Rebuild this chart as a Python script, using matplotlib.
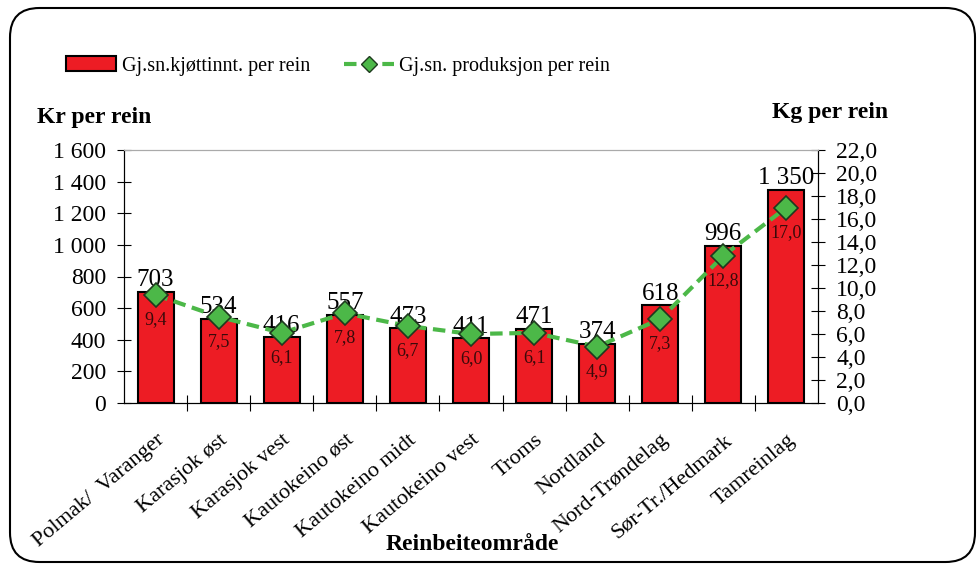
import matplotlib.pyplot as plt
from matplotlib.patches import FancyBboxPatch, Patch
from matplotlib.lines import Line2D
from matplotlib.ticker import FuncFormatter

plt.rcParams['font.family'] = ['Liberation Serif', 'DejaVu Serif']

# data
omrader = ['Polmak/  Varanger', 'Karasjok øst', 'Karasjok vest', 'Kautokeino øst',
           'Kautokeino midt', 'Kautokeino vest', 'Troms', 'Nordland',
           'Nord-Trøndelag', 'Sør-Tr./Hedmark', 'Tamreinlag']
kr_per_rein = [703, 534, 416, 557, 473, 411, 471, 374, 618, 996, 1350]
kg_per_rein = [9.4, 7.5, 6.1, 7.8, 6.7, 6.0, 6.1, 4.9, 7.3, 12.8, 17.0]

fig = plt.figure(figsize=(9.8, 5.64), dpi=100)
ax = fig.add_axes([124/980, 1 - 403/564, (818-124)/980, (403-150)/564])
ax2 = ax.twinx()

x = range(len(omrader))
ax.bar(x, kr_per_rein, width=0.57, color='#ed1c24', edgecolor='black', linewidth=1.5, zorder=2)
ax.set_xlim(-0.5, len(omrader) - 0.5)
ax.set_ylim(0, 1600)
ax.set_yticks(range(0, 1601, 200))
ax.yaxis.set_major_formatter(FuncFormatter(lambda v, p: f'{int(v):,}'.replace(',', ' ')))
ax.set_xticks([i + 0.5 for i in range(len(omrader) - 1)], minor=False)
ax.set_xticklabels([])
# category labels sit a little right of the bar centre, like the original
ax.set_xticks([i + 0.1 for i in x], minor=True)
ax.set_xticklabels(omrader, minor=True, rotation=40, ha='right', va='center',
                   rotation_mode='anchor', fontsize=16)
ax.tick_params(axis='x', which='minor', length=0, pad=25)
ax.tick_params(axis='x', which='major', direction='inout', length=12)
ax.tick_params(axis='y', direction='inout', length=10, labelsize=17, pad=8)
for i, v in enumerate(kr_per_rein):
    ax.text(i, v + 3, f'{v:,}'.replace(',', ' '), ha='center', va='bottom', fontsize=18, zorder=5)

ax2.plot(x, kg_per_rein, color='#4cb848', linestyle=(0, (3, 1.6)), linewidth=3,
         marker='D', markersize=12, markerfacecolor='#4cb848', markeredgecolor='#1e3a1e',
         markeredgewidth=1.2, zorder=4)
ax2.set_ylim(0, 22)
ax2.set_yticks([i * 2 for i in range(12)])
ax2.yaxis.set_major_formatter(FuncFormatter(lambda v, p: f'{v:.1f}'.replace('.', ',')))
ax2.tick_params(axis='y', direction='inout', length=10, labelsize=17, pad=8)
for i, v in enumerate(kg_per_rein):
    ax2.text(i, v - 1.4, f'{v:.1f}'.replace('.', ','), ha='center', va='top',
             fontsize=13, color='#3a0a0a', zorder=5)

for a in (ax, ax2):
    a.spines['top'].set_color('#aaaaaa')
ax.set_zorder(ax2.get_zorder() - 1)
ax.patch.set_visible(False)

fig.text(37/980, 1 - 118/564, 'Kr per rein', fontsize=17, fontweight='bold', va='center')
fig.text(830/980, 1 - 112/564, 'Kg per rein', fontsize=17, fontweight='bold', va='center', ha='center')
fig.text(472/980, 1 - 545/564, 'Reinbeiteområde', fontsize=17, fontweight='bold', va='center', ha='center')

handles = [Patch(facecolor='#ed1c24', edgecolor='black', linewidth=1.5),
           Line2D([], [], color='#4cb848', linestyle=(0, (3, 1.6)), linewidth=3, marker='D',
                  markersize=8, markerfacecolor='#4cb848', markeredgecolor='#1e3a1e')]
fig.legend(handles, ['Gj.sn.kjøttinnt. per rein', 'Gj.sn. produksjon per rein'],
           loc='center left', bbox_to_anchor=(48/980, 1 - 66/564), ncol=2, frameon=False,
           fontsize=14.5, handlelength=2.5, handleheight=0.7, columnspacing=1.7, handletextpad=0.25)

border = FancyBboxPatch((10/980, 2/564), 965/980, 554/564,
                        boxstyle='round,pad=0,rounding_size=0.03', transform=fig.transFigure,
                        facecolor='none', edgecolor='black', linewidth=1.5, clip_on=False,
                        mutation_aspect=980/564)
fig.patches.append(border)

fig.savefig('out.png', dpi=100)
